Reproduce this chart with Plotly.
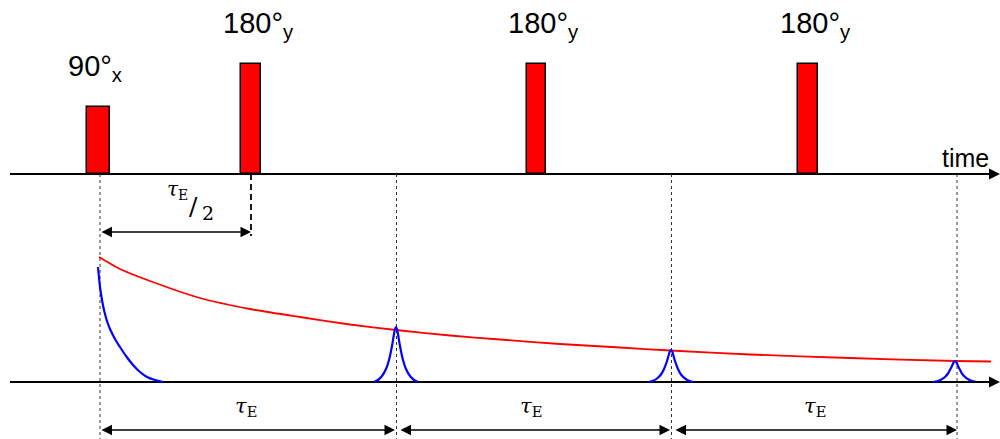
import plotly.graph_objects as go

# ---- data (time axis in drawing units, amplitudes above each baseline) ----
pulse_t = [98.5, 251, 536, 808]
pulse_w = [23, 20, 19, 20]
pulse_h = [67, 110, 110, 110]
pulse_labels = ["90°<sub>x</sub>", "180°<sub>y</sub>", "180°<sub>y</sub>", "180°<sub>y</sub>"]

env_t = [99, 120, 150, 200, 250, 300, 350, 396, 450, 500, 560, 620, 670, 750, 850, 955, 991]
env_a = [125, 113, 101, 84, 73, 65, 57.5, 52, 46.5, 42.5, 38, 34.5, 31.5, 27.5, 24, 21, 20.5]

fid_t = [98, 100, 102, 104, 107, 110, 115, 120, 126, 133, 140, 147, 155, 163]
fid_a = [115, 95, 82, 72, 61, 53, 43, 35, 26, 17, 10, 5, 2, 0]

echo1_t = [374, 378, 382, 386, 389, 392, 394, 395, 396, 397, 398, 400, 403, 406, 410, 414, 418]
echo1_a = [0, 2, 6, 13, 22, 36, 48, 53, 55, 53, 48, 36, 22, 13, 6, 2, 0]
echo2_t = [649, 653, 657, 661, 664, 667, 669, 670, 671, 672, 673, 675, 678, 681, 685, 689, 693]
echo2_a = [0, 1.2, 3.5, 7.5, 13, 21, 28, 31, 32, 31, 28, 21, 13, 7.5, 3.5, 1.2, 0]
echo3_t = [933, 937, 941, 945, 948, 951, 953, 954, 955, 956, 957, 959, 962, 965, 969, 973, 977]
echo3_a = [0, 0.8, 2.3, 5, 8.5, 14, 18.3, 20.3, 21, 20.3, 18.3, 14, 8.5, 5, 2.3, 0.8, 0]

guide_t = [100, 396.5, 671.5, 957]          # thin dashed guides
half_echo_t = 251                            # tau_E/2 marker
span_starts = [100, 399, 674]
span_ends = [395, 670, 957]
span_label_t = [246, 531, 815]

PULSE_BASE = 265   # vertical position of pulse baseline
SIG_BASE = 57      # vertical position of signal baseline
X0, X1 = 10, 1000

fig = go.Figure()

# pulses
fig.add_trace(go.Bar(x=pulse_t, y=pulse_h, base=PULSE_BASE, width=pulse_w,
                     marker=dict(color="#ff0000", line=dict(color="black", width=1.5)),
                     hoverinfo="skip"))

# envelope
fig.add_trace(go.Scatter(x=env_t, y=[SIG_BASE + a for a in env_a], mode="lines",
                         line=dict(color="#ff0000", width=1.8, shape="spline", smoothing=0.6),
                         hoverinfo="skip"))
# FID and echoes
for tt, aa in [(fid_t, fid_a), (echo1_t, echo1_a), (echo2_t, echo2_a), (echo3_t, echo3_a)]:
    fig.add_trace(go.Scatter(x=tt, y=[SIG_BASE + a for a in aa], mode="lines",
                             line=dict(color="#0000ff", width=2.2, shape="spline", smoothing=0.8),
                             hoverinfo="skip"))

shapes = []
# baselines
for yb in (PULSE_BASE, SIG_BASE):
    shapes.append(dict(type="line", xref="x", yref="y", x0=X0, x1=X1 - 8, y0=yb, y1=yb,
                       line=dict(color="black", width=2), layer="below"))
# dashed guides
for g in guide_t:
    shapes.append(dict(type="line", xref="x", yref="y", x0=g, x1=g, y0=PULSE_BASE, y1=0,
                       line=dict(color="#333333", width=1, dash="3px,3px"), layer="below"))
shapes.append(dict(type="line", xref="x", yref="y", x0=half_echo_t, x1=half_echo_t,
                   y0=PULSE_BASE, y1=203, line=dict(color="black", width=1.8, dash="6px,4px")))

annotations = []
# axis arrowheads
for yb in (PULSE_BASE, SIG_BASE):
    annotations.append(dict(x=X1, y=yb, ax=X1 - 30, ay=yb, xref="x", yref="y", axref="x", ayref="y",
                            text="", showarrow=True, arrowhead=2, arrowsize=1.1, arrowwidth=2,
                            arrowcolor="black", standoff=0))
# span arrows
for s, e in zip(span_starts, span_ends):
    annotations.append(dict(x=e, y=9, ax=s, ay=9, xref="x", yref="y", axref="x", ayref="y",
                            text="", showarrow=True, arrowhead=2, startarrowhead=2,
                            arrowside="end+start", arrowsize=1.4, startarrowsize=1.4, arrowwidth=1.5,
                            arrowcolor="black", standoff=0, startstandoff=0))
annotations.append(dict(x=half_echo_t, y=207, ax=100, ay=207, xref="x", yref="y", axref="x", ayref="y",
                        text="", showarrow=True, arrowhead=2, startarrowhead=2,
                        arrowside="end+start", arrowsize=1.4, startarrowsize=1.4, arrowwidth=1.5,
                        arrowcolor="black", standoff=0, startstandoff=0))

# pulse labels
label_left = [66, 221, 506, 778]
label_y = [371, 414, 414, 414]
for lx, ly, txt in zip(label_left, label_y, pulse_labels):
    annotations.append(dict(x=lx, y=ly, xref="x", yref="y", text=txt, showarrow=False,
                            xanchor="left", yanchor="middle",
                            font=dict(family="Liberation Sans, Arial", size=29, color="black")))
annotations.append(dict(x=940, y=281, xref="x", yref="y", text="time", showarrow=False,
                        xanchor="left", yanchor="middle",
                        font=dict(family="Liberation Sans, Arial", size=25, color="black")))
for lt in span_label_t:
    annotations.append(dict(x=lt, y=32, xref="x", yref="y", text="<i>τ</i><sub>E</sub>",
                            showarrow=False, xanchor="center", yanchor="middle",
                            font=dict(family="DejaVu Serif", size=21, color="black")))
annotations.append(dict(x=165, y=249, xref="x", yref="y", text="<i>τ</i><sub>E</sub>",
                        showarrow=False, xanchor="left", yanchor="middle",
                        font=dict(family="DejaVu Serif", size=20, color="black")))
annotations.append(dict(x=187, y=233, xref="x", yref="y", text="/",
                        showarrow=False, xanchor="left", yanchor="middle",
                        font=dict(family="DejaVu Serif", size=25, color="black")))
annotations.append(dict(x=200, y=226, xref="x", yref="y", text="2",
                        showarrow=False, xanchor="left", yanchor="middle",
                        font=dict(family="DejaVu Serif", size=19, color="black")))

fig.update_layout(width=1000, height=439, margin=dict(l=0, r=0, t=0, b=0),
                  paper_bgcolor="white", plot_bgcolor="white", showlegend=False,
                  shapes=shapes, annotations=annotations, bargap=0)
fig.update_xaxes(range=[0, 1000], visible=False, fixedrange=True)
fig.update_yaxes(range=[0, 439], visible=False, fixedrange=True)

fig.write_html("out.html", config={"displayModeBar": False})
